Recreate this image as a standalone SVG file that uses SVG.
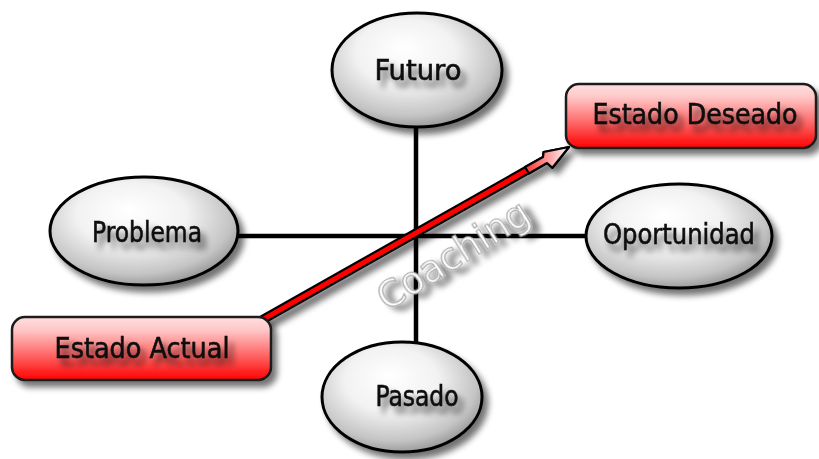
<svg xmlns="http://www.w3.org/2000/svg" width="819" height="459" viewBox="0 0 819 459">
<defs>
<radialGradient id="gEll" cx="0.45" cy="0.4" r="0.65" fx="0.42" fy="0.3">
<stop offset="0" stop-color="#ffffff"/>
<stop offset="0.45" stop-color="#f2f2f2"/>
<stop offset="0.8" stop-color="#c4c4c4"/>
<stop offset="1" stop-color="#8a8a8a"/>
</radialGradient>
<linearGradient id="gRed" x1="0" y1="0" x2="0" y2="1">
<stop offset="0" stop-color="#ffdede"/>
<stop offset="0.2" stop-color="#ffc8c8"/>
<stop offset="0.6" stop-color="#ff6868"/>
<stop offset="1" stop-color="#ff0000"/>
</linearGradient>
<linearGradient id="gHead" x1="0" y1="0" x2="1" y2="0">
<stop offset="0" stop-color="#ff3030"/>
<stop offset="1" stop-color="#ffffff"/>
</linearGradient>
<filter id="shadow" x="-20%" y="-20%" width="150%" height="150%">
<feGaussianBlur in="SourceAlpha" stdDeviation="3"/>
<feOffset dx="5" dy="6"/>
<feComponentTransfer><feFuncA type="linear" slope="0.55"/></feComponentTransfer>
<feMerge><feMergeNode/><feMergeNode in="SourceGraphic"/></feMerge>
</filter>
<filter id="tshadow" x="-20%" y="-40%" width="150%" height="200%">
<feGaussianBlur in="SourceAlpha" stdDeviation="3"/>
<feOffset dx="5" dy="7"/>
<feComponentTransfer><feFuncA type="linear" slope="0.6"/></feComponentTransfer>
<feMerge><feMergeNode/><feMergeNode in="SourceGraphic"/></feMerge>
</filter>
<style>
.ell{fill:url(#gEll);stroke:#000;stroke-width:3}
.box{fill:url(#gRed);stroke:#1a1a1a;stroke-width:2.5}
.lbl{font-family:"DejaVu Sans Condensed","DejaVu Sans",sans-serif;font-size:29px;fill:#111;stroke:#111;stroke-width:0.6;text-anchor:middle}
.axis{stroke:#000;stroke-width:4.5;fill:none}
.coach{font-family:"DejaVu Sans","Liberation Sans",sans-serif;font-size:37px;fill:#fff;stroke:#aaa;stroke-width:1.2;text-anchor:middle}
</style>
</defs>
<g id="connectors">
<line class="axis" x1="416" y1="127" x2="416" y2="342"/>
<line class="axis" x1="237" y1="236" x2="586" y2="236"/>
<g filter="url(#shadow)">
<path d="M260,317 L543,157 L543.6,152 L569,147 L552.4,167.8 L547,163 L264,323 Z" fill="#ff0000" stroke="#000" stroke-width="2.2" stroke-linejoin="round"/>
<path d="M525,167 L543,157 L543.6,152 L569,147 L552.4,167.8 L547,163 L529,173.5 Z" fill="url(#gHead)" stroke="#000" stroke-width="2.2" stroke-linejoin="round"/>
</g>
<text class="coach" x="460" y="266" transform="rotate(-32 460 266)" textLength="172" lengthAdjust="spacingAndGlyphs" filter="url(#tshadow)">Coaching</text>
</g>
<g id="futuro">
<ellipse class="ell" cx="417" cy="70" rx="85" ry="57" filter="url(#shadow)"/>
<text class="lbl" x="418" y="80" textLength="87" lengthAdjust="spacingAndGlyphs" filter="url(#tshadow)">Futuro</text>
</g>
<g id="problema">
<ellipse class="ell" cx="144" cy="231" rx="94" ry="54" filter="url(#shadow)"/>
<text class="lbl" x="147" y="242" textLength="110" lengthAdjust="spacingAndGlyphs" filter="url(#tshadow)">Problema</text>
</g>
<g id="oportunidad">
<ellipse class="ell" cx="679" cy="236" rx="93" ry="52" filter="url(#shadow)"/>
<text class="lbl" x="679" y="244" textLength="152" lengthAdjust="spacingAndGlyphs" filter="url(#tshadow)">Oportunidad</text>
</g>
<g id="pasado">
<ellipse class="ell" cx="402" cy="397" rx="80" ry="55" filter="url(#shadow)"/>
<text class="lbl" x="417" y="406" textLength="83" lengthAdjust="spacingAndGlyphs" filter="url(#tshadow)">Pasado</text>
</g>
<g id="estado-deseado">
<rect class="box" x="566" y="84" width="250" height="64" rx="13" filter="url(#shadow)"/>
<text class="lbl" x="695" y="124" textLength="205" lengthAdjust="spacingAndGlyphs" filter="url(#tshadow)">Estado Deseado</text>
</g>
<g id="estado-actual">
<rect class="box" x="12" y="317" width="259" height="63" rx="13" filter="url(#shadow)"/>
<text class="lbl" x="142" y="358" textLength="175" lengthAdjust="spacingAndGlyphs" filter="url(#tshadow)">Estado Actual</text>
</g>
</svg>
